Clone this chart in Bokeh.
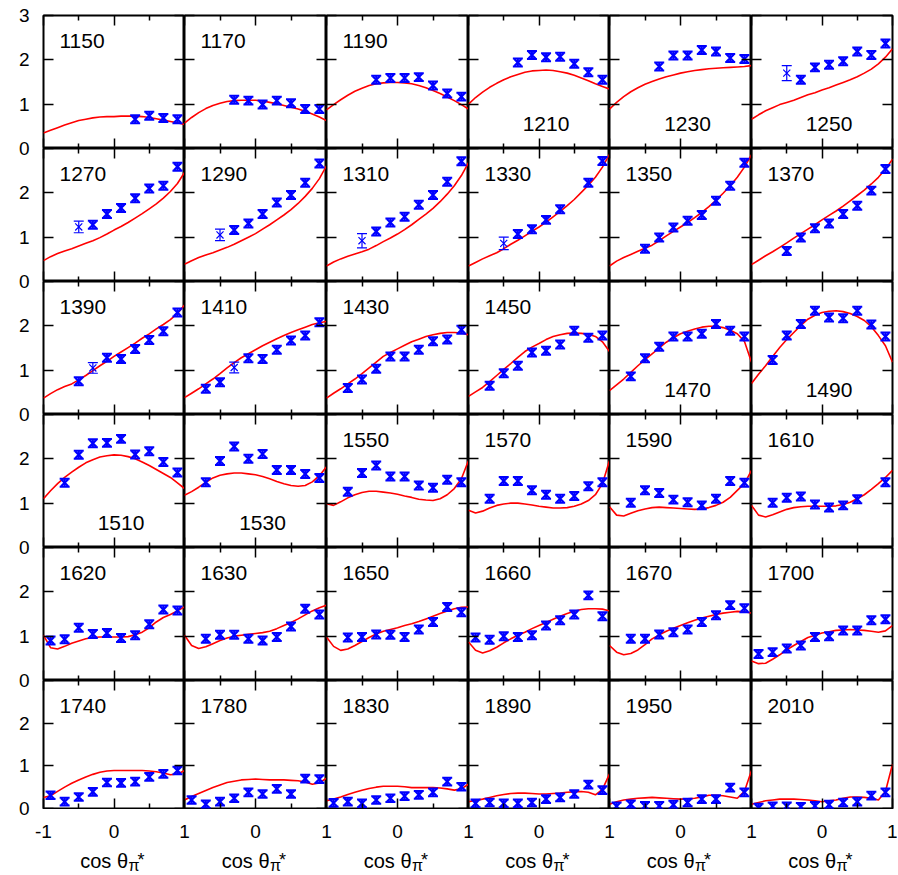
from bokeh.plotting import figure
from bokeh.layouts import gridplot, row, column
from bokeh.models import Range1d, FixedTicker, LinearAxis, Label
from bokeh.embed import file_html
from bokeh.resources import INLINE

# ---------------- data ----------------
energies = [1150, 1170, 1190, 1210, 1230, 1250,
            1270, 1290, 1310, 1330, 1350, 1370,
            1390, 1410, 1430, 1450, 1470, 1490,
            1510, 1530, 1550, 1570, 1590, 1610,
            1620, 1630, 1650, 1660, 1670, 1700,
            1740, 1780, 1830, 1890, 1950, 2010]
labels_at_bottom = [1210, 1230, 1250, 1470, 1490, 1510, 1530]

cos_fit = [-1.0, -0.9, -0.8, -0.7, -0.6, -0.5, -0.4, -0.3, -0.2, -0.1, 0.0,
           0.1, 0.2, 0.3, 0.4, 0.5, 0.6, 0.7, 0.8, 0.9, 1.0]

fit_1150 = [0.35, 0.41, 0.47, 0.53, 0.58, 0.63, 0.66, 0.69, 0.71, 0.72, 0.72, 0.73, 0.73, 0.73, 0.72, 0.70, 0.67, 0.64, 0.61, 0.58, 0.54]
fit_1170 = [0.57, 0.70, 0.81, 0.90, 0.97, 1.02, 1.06, 1.08, 1.09, 1.09, 1.09, 1.07, 1.04, 1.01, 0.97, 0.93, 0.89, 0.84, 0.78, 0.71, 0.63]
fit_1190 = [0.87, 0.99, 1.10, 1.20, 1.29, 1.36, 1.42, 1.46, 1.48, 1.49, 1.49, 1.48, 1.46, 1.42, 1.37, 1.31, 1.24, 1.16, 1.08, 0.99, 0.89]
fit_1210 = [1.00, 1.15, 1.27, 1.38, 1.47, 1.55, 1.62, 1.67, 1.72, 1.75, 1.76, 1.77, 1.76, 1.73, 1.70, 1.65, 1.59, 1.53, 1.46, 1.40, 1.34]
fit_1230 = [0.89, 1.04, 1.17, 1.28, 1.37, 1.45, 1.51, 1.57, 1.62, 1.66, 1.70, 1.73, 1.76, 1.78, 1.80, 1.81, 1.82, 1.83, 1.84, 1.85, 1.87]
fit_1250 = [0.66, 0.76, 0.85, 0.92, 0.99, 1.04, 1.09, 1.15, 1.21, 1.26, 1.32, 1.37, 1.43, 1.49, 1.55, 1.62, 1.70, 1.79, 1.91, 2.06, 2.25]
fit_1270 = [0.47, 0.56, 0.63, 0.69, 0.74, 0.80, 0.86, 0.92, 0.99, 1.07, 1.16, 1.24, 1.33, 1.43, 1.53, 1.64, 1.75, 1.88, 2.03, 2.21, 2.46]
fit_1290 = [0.39, 0.47, 0.54, 0.60, 0.65, 0.71, 0.77, 0.84, 0.92, 1.00, 1.08, 1.18, 1.28, 1.39, 1.50, 1.62, 1.76, 1.92, 2.10, 2.32, 2.61]
fit_1310 = [0.35, 0.44, 0.51, 0.57, 0.62, 0.67, 0.73, 0.81, 0.90, 0.98, 1.07, 1.17, 1.28, 1.40, 1.52, 1.65, 1.80, 1.97, 2.16, 2.39, 2.68]
fit_1330 = [0.35, 0.43, 0.51, 0.58, 0.65, 0.74, 0.84, 0.93, 1.03, 1.13, 1.23, 1.34, 1.46, 1.58, 1.71, 1.85, 2.01, 2.17, 2.35, 2.58, 2.87]
fit_1350 = [0.35, 0.46, 0.54, 0.61, 0.68, 0.75, 0.82, 0.92, 1.03, 1.13, 1.23, 1.33, 1.44, 1.56, 1.69, 1.83, 1.99, 2.16, 2.35, 2.58, 2.86]
fit_1370 = [0.38, 0.48, 0.58, 0.67, 0.77, 0.87, 0.98, 1.08, 1.18, 1.28, 1.39, 1.49, 1.59, 1.70, 1.82, 1.94, 2.06, 2.20, 2.35, 2.53, 2.76]
fit_1390 = [0.37, 0.47, 0.56, 0.63, 0.69, 0.78, 0.88, 0.99, 1.10, 1.20, 1.31, 1.41, 1.51, 1.61, 1.72, 1.82, 1.93, 2.03, 2.14, 2.28, 2.47]
fit_1410 = [0.38, 0.48, 0.58, 0.69, 0.80, 0.92, 1.05, 1.17, 1.28, 1.37, 1.46, 1.55, 1.63, 1.71, 1.78, 1.85, 1.91, 1.97, 2.03, 2.07, 2.10]
fit_1430 = [0.37, 0.48, 0.58, 0.69, 0.80, 0.92, 1.05, 1.18, 1.31, 1.40, 1.48, 1.56, 1.64, 1.70, 1.76, 1.80, 1.83, 1.85, 1.85, 1.84, 1.80]
fit_1450 = [0.41, 0.51, 0.61, 0.74, 0.88, 1.02, 1.15, 1.29, 1.42, 1.52, 1.60, 1.69, 1.76, 1.80, 1.83, 1.84, 1.83, 1.81, 1.76, 1.64, 1.42]
fit_1470 = [0.54, 0.67, 0.80, 0.95, 1.10, 1.24, 1.37, 1.50, 1.63, 1.73, 1.82, 1.88, 1.93, 1.97, 1.99, 1.99, 1.96, 1.90, 1.82, 1.65, 1.18]
fit_1490 = [0.70, 0.91, 1.10, 1.31, 1.51, 1.69, 1.85, 2.01, 2.15, 2.24, 2.30, 2.33, 2.34, 2.32, 2.28, 2.21, 2.12, 1.98, 1.78, 1.55, 1.18]
fit_1510 = [1.10, 1.28, 1.44, 1.58, 1.70, 1.81, 1.91, 1.98, 2.04, 2.07, 2.09, 2.08, 2.05, 2.00, 1.93, 1.85, 1.76, 1.67, 1.58, 1.46, 1.33]
fit_1530 = [1.18, 1.26, 1.36, 1.47, 1.57, 1.63, 1.66, 1.68, 1.68, 1.66, 1.64, 1.60, 1.55, 1.49, 1.44, 1.40, 1.38, 1.40, 1.48, 1.62, 1.82]
fit_1550 = [0.99, 0.95, 1.03, 1.12, 1.19, 1.24, 1.27, 1.27, 1.25, 1.23, 1.20, 1.16, 1.13, 1.09, 1.07, 1.06, 1.10, 1.19, 1.33, 1.55, 1.96]
fit_1570 = [0.84, 0.78, 0.82, 0.89, 0.95, 0.98, 1.00, 1.00, 0.98, 0.96, 0.93, 0.91, 0.89, 0.89, 0.90, 0.93, 0.98, 1.06, 1.19, 1.44, 1.96]
fit_1590 = [0.92, 0.73, 0.71, 0.77, 0.83, 0.87, 0.90, 0.91, 0.90, 0.89, 0.88, 0.87, 0.86, 0.87, 0.90, 0.95, 1.02, 1.13, 1.29, 1.44, 1.74]
fit_1610 = [0.95, 0.73, 0.69, 0.74, 0.80, 0.86, 0.90, 0.92, 0.93, 0.93, 0.93, 0.93, 0.94, 0.97, 1.02, 1.10, 1.19, 1.31, 1.44, 1.58, 1.74]
fit_1620 = [1.02, 0.74, 0.71, 0.77, 0.84, 0.89, 0.94, 0.97, 0.98, 0.98, 0.98, 0.98, 0.99, 1.03, 1.09, 1.19, 1.32, 1.42, 1.49, 1.57, 1.66]
fit_1630 = [1.02, 0.79, 0.72, 0.76, 0.83, 0.90, 0.96, 1.00, 1.02, 1.04, 1.06, 1.08, 1.11, 1.17, 1.24, 1.31, 1.39, 1.48, 1.57, 1.64, 1.70]
fit_1650 = [0.98, 0.77, 0.68, 0.71, 0.79, 0.88, 0.97, 1.05, 1.11, 1.15, 1.19, 1.24, 1.28, 1.33, 1.39, 1.45, 1.51, 1.57, 1.62, 1.65, 1.66]
fit_1660 = [0.87, 0.68, 0.62, 0.67, 0.75, 0.85, 0.94, 1.02, 1.09, 1.17, 1.24, 1.31, 1.38, 1.45, 1.51, 1.56, 1.60, 1.62, 1.62, 1.61, 1.57]
fit_1670 = [0.79, 0.64, 0.58, 0.61, 0.69, 0.81, 0.94, 1.03, 1.11, 1.18, 1.24, 1.30, 1.36, 1.41, 1.45, 1.49, 1.52, 1.54, 1.56, 1.55, 1.52]
fit_1700 = [0.44, 0.38, 0.39, 0.48, 0.58, 0.69, 0.79, 0.88, 0.97, 1.02, 1.07, 1.10, 1.13, 1.14, 1.15, 1.14, 1.13, 1.11, 1.09, 1.12, 1.24]
fit_1740 = [0.26, 0.30, 0.40, 0.50, 0.59, 0.67, 0.74, 0.80, 0.85, 0.88, 0.89, 0.89, 0.89, 0.89, 0.89, 0.88, 0.86, 0.83, 0.79, 0.81, 0.89]
fit_1780 = [0.20, 0.28, 0.35, 0.42, 0.49, 0.55, 0.61, 0.64, 0.67, 0.68, 0.69, 0.68, 0.67, 0.67, 0.67, 0.66, 0.65, 0.62, 0.57, 0.60, 0.71]
fit_1830 = [0.18, 0.22, 0.27, 0.33, 0.38, 0.43, 0.47, 0.50, 0.52, 0.52, 0.52, 0.51, 0.49, 0.49, 0.49, 0.49, 0.48, 0.46, 0.43, 0.46, 0.57]
fit_1890 = [0.16, 0.19, 0.22, 0.26, 0.30, 0.33, 0.35, 0.36, 0.36, 0.35, 0.34, 0.34, 0.35, 0.36, 0.38, 0.39, 0.40, 0.38, 0.32, 0.45, 0.81]
fit_1950 = [0.10, 0.16, 0.20, 0.22, 0.24, 0.25, 0.26, 0.25, 0.24, 0.23, 0.22, 0.23, 0.24, 0.27, 0.31, 0.31, 0.30, 0.27, 0.24, 0.40, 0.89]
fit_2010 = [0.10, 0.14, 0.18, 0.20, 0.22, 0.22, 0.22, 0.21, 0.20, 0.18, 0.16, 0.18, 0.20, 0.24, 0.27, 0.27, 0.26, 0.24, 0.20, 0.40, 1.04]

# measured points (cos theta, dsigma/dOmega)
cos_1150 = [0.3, 0.5, 0.7, 0.9]
dsig_1150 = [0.66, 0.74, 0.69, 0.66]
cos_1170 = [-0.3, -0.1, 0.1, 0.3, 0.5, 0.7, 0.9]
dsig_1170 = [1.10, 1.08, 0.99, 1.08, 1.02, 0.89, 0.89]
cos_1190 = [-0.3, -0.1, 0.1, 0.3, 0.5, 0.7, 0.9]
dsig_1190 = [1.55, 1.59, 1.59, 1.61, 1.42, 1.24, 1.17]
cos_1210 = [-0.3, -0.1, 0.1, 0.3, 0.5, 0.7, 0.9]
dsig_1210 = [1.94, 2.11, 2.06, 2.07, 1.91, 1.72, 1.55]
cos_1230 = [-0.3, -0.1, 0.1, 0.3, 0.5, 0.7, 0.9]
dsig_1230 = [1.85, 2.10, 2.10, 2.22, 2.19, 2.04, 2.02]
cos_1250 = [-0.3, -0.1, 0.1, 0.3, 0.5, 0.7, 0.9]
dsig_1250 = [1.55, 1.83, 1.89, 1.97, 2.19, 2.11, 2.37]
cos_1270 = [-0.3, -0.1, 0.1, 0.3, 0.5, 0.7, 0.9]
dsig_1270 = [1.28, 1.52, 1.66, 1.88, 2.10, 2.16, 2.59]
cos_1290 = [-0.3, -0.1, 0.1, 0.3, 0.5, 0.7, 0.9]
dsig_1290 = [1.16, 1.31, 1.52, 1.78, 1.95, 2.23, 2.66]
cos_1310 = [-0.3, -0.1, 0.1, 0.3, 0.5, 0.7, 0.9]
dsig_1310 = [1.13, 1.33, 1.46, 1.73, 1.95, 2.25, 2.71]
cos_1330 = [-0.3, -0.1, 0.1, 0.3, 0.7, 0.9]
dsig_1330 = [1.07, 1.18, 1.39, 1.63, 2.23, 2.72]
cos_1350 = [-0.5, -0.3, -0.1, 0.1, 0.3, 0.5, 0.7, 0.9]
dsig_1350 = [0.74, 0.99, 1.22, 1.37, 1.50, 1.82, 2.16, 2.68]
cos_1370 = [-0.5, -0.3, -0.1, 0.1, 0.3, 0.5, 0.7, 0.9]
dsig_1370 = [0.69, 0.99, 1.20, 1.31, 1.52, 1.71, 2.05, 2.54]
cos_1390 = [-0.5, -0.1, 0.1, 0.3, 0.5, 0.7, 0.9]
dsig_1390 = [0.75, 1.28, 1.25, 1.48, 1.68, 1.88, 2.30]
cos_1410 = [-0.7, -0.5, -0.1, 0.1, 0.3, 0.5, 0.7, 0.9]
dsig_1410 = [0.58, 0.73, 1.27, 1.25, 1.46, 1.67, 1.78, 2.08]
cos_1430 = [-0.7, -0.5, -0.3, -0.1, 0.1, 0.3, 0.5, 0.7, 0.9]
dsig_1430 = [0.60, 0.79, 1.03, 1.31, 1.31, 1.46, 1.65, 1.69, 1.91]
cos_1450 = [-0.7, -0.5, -0.3, -0.1, 0.1, 0.3, 0.5, 0.7, 0.9]
dsig_1450 = [0.65, 0.93, 1.10, 1.40, 1.44, 1.58, 1.89, 1.73, 1.78]
cos_1470 = [-0.7, -0.5, -0.3, -0.1, 0.1, 0.3, 0.5, 0.7, 0.9]
dsig_1470 = [0.86, 1.27, 1.53, 1.76, 1.76, 1.82, 2.04, 1.89, 1.76]
cos_1490 = [-0.7, -0.5, -0.3, -0.1, 0.1, 0.3, 0.5, 0.7, 0.9]
dsig_1490 = [1.23, 1.78, 2.04, 2.34, 2.19, 2.17, 2.34, 2.03, 1.76]
cos_1510 = [-0.7, -0.5, -0.3, -0.1, 0.1, 0.3, 0.5, 0.7, 0.9]
dsig_1510 = [1.46, 2.09, 2.35, 2.36, 2.45, 2.10, 2.17, 1.93, 1.69]
cos_1530 = [-0.7, -0.5, -0.3, -0.1, 0.1, 0.3, 0.5, 0.7, 0.9]
dsig_1530 = [1.47, 1.95, 2.28, 2.00, 2.11, 1.75, 1.75, 1.66, 1.57]
cos_1550 = [-0.7, -0.5, -0.3, -0.1, 0.1, 0.3, 0.5, 0.7, 0.9]
dsig_1550 = [1.26, 1.68, 1.85, 1.60, 1.60, 1.40, 1.35, 1.53, 1.47]
cos_1570 = [-0.7, -0.5, -0.3, -0.1, 0.1, 0.3, 0.5, 0.7, 0.9]
dsig_1570 = [1.10, 1.50, 1.50, 1.29, 1.19, 1.10, 1.16, 1.38, 1.47]
cos_1590 = [-0.7, -0.5, -0.3, -0.1, 0.1, 0.3, 0.5, 0.7, 0.9]
dsig_1590 = [1.01, 1.29, 1.23, 1.08, 1.02, 0.95, 1.10, 1.50, 1.46]
cos_1610 = [-0.7, -0.5, -0.3, -0.1, 0.1, 0.3, 0.5, 0.9]
dsig_1610 = [1.01, 1.12, 1.15, 0.97, 0.90, 0.95, 1.09, 1.47]
cos_1620 = [-0.9, -0.7, -0.5, -0.3, -0.1, 0.1, 0.3, 0.5, 0.7, 0.9]
dsig_1620 = [0.90, 0.93, 1.19, 1.05, 1.07, 0.96, 1.02, 1.27, 1.60, 1.58]
cos_1630 = [-0.7, -0.5, -0.3, -0.1, 0.1, 0.3, 0.5, 0.7, 0.9]
dsig_1630 = [0.94, 1.03, 1.03, 0.94, 0.90, 0.98, 1.22, 1.62, 1.49]
cos_1650 = [-0.7, -0.5, -0.3, -0.1, 0.1, 0.3, 0.5, 0.7, 0.9]
dsig_1650 = [0.97, 0.98, 1.04, 1.03, 0.98, 1.15, 1.32, 1.66, 1.54]
cos_1660 = [-0.9, -0.7, -0.5, -0.3, -0.1, 0.1, 0.3, 0.5, 0.7, 0.9]
dsig_1660 = [0.97, 0.92, 1.00, 0.98, 1.02, 1.24, 1.36, 1.49, 1.92, 1.45]
cos_1670 = [-0.7, -0.5, -0.3, -0.1, 0.1, 0.3, 0.5, 0.7, 0.9]
dsig_1670 = [0.94, 0.94, 1.04, 1.09, 1.15, 1.32, 1.47, 1.70, 1.63]
cos_1700 = [-0.9, -0.7, -0.5, -0.3, -0.1, 0.1, 0.3, 0.5, 0.7, 0.9]
dsig_1700 = [0.60, 0.64, 0.72, 0.79, 0.98, 1.00, 1.13, 1.13, 1.36, 1.38]
cos_1740 = [-0.9, -0.7, -0.5, -0.3, -0.1, 0.1, 0.3, 0.5, 0.7, 0.9]
dsig_1740 = [0.31, 0.16, 0.27, 0.39, 0.61, 0.60, 0.63, 0.74, 0.81, 0.89]
cos_1780 = [-0.9, -0.7, -0.5, -0.3, -0.1, 0.1, 0.3, 0.5, 0.7, 0.9]
dsig_1780 = [0.20, 0.10, 0.16, 0.24, 0.38, 0.34, 0.46, 0.34, 0.70, 0.69]
cos_1830 = [-0.9, -0.7, -0.5, -0.3, -0.1, 0.1, 0.3, 0.5, 0.7, 0.9]
dsig_1830 = [0.13, 0.16, 0.12, 0.20, 0.24, 0.29, 0.32, 0.38, 0.63, 0.51]
cos_1890 = [-0.9, -0.7, -0.5, -0.3, -0.1, 0.1, 0.3, 0.5, 0.7, 0.9]
dsig_1890 = [0.12, 0.14, 0.12, 0.12, 0.14, 0.22, 0.26, 0.34, 0.56, 0.43]
cos_1950 = [-0.9, -0.7, -0.5, -0.3, -0.1, 0.1, 0.3, 0.5, 0.7, 0.9]
dsig_1950 = [0.05, 0.10, 0.06, 0.06, 0.09, 0.14, 0.22, 0.22, 0.49, 0.38]
cos_2010 = [-0.9, -0.7, -0.5, -0.3, -0.1, 0.1, 0.3, 0.5, 0.7, 0.9]
dsig_2010 = [0.02, 0.05, 0.05, 0.04, 0.06, 0.09, 0.14, 0.16, 0.30, 0.38]
err_typical = 0.09

# points with larger error bars (drawn thin)
wide_energy = [1250, 1270, 1290, 1310, 1330, 1390, 1410]
wide_cos = [-0.5, -0.5, -0.5, -0.5, -0.5, -0.3, -0.3]
wide_dsig = [1.70, 1.23, 1.05, 0.92, 0.86, 1.05, 1.06]
wide_err = [0.17, 0.13, 0.13, 0.16, 0.14, 0.12, 0.12]

y_ticks = [0, 1, 2, 3]
x_ticks = [-1, 0, 1]
x_minor = [-0.5, 0.5]

# ---------------- layout / style ----------------
col_w = [141, 142, 142, 141, 142, 141]
row_h = [133, 133, 133, 133, 133, 128]
FONT = "Liberation Sans"
BLUE = "#0000ff"
RED = "#ff0000"


def tick_axis(ax, ticks, minor):
    ax.ticker = FixedTicker(ticks=ticks, minor_ticks=minor)
    ax.axis_line_color = None
    ax.major_tick_in = 10
    ax.major_tick_out = 0
    ax.minor_tick_in = 5
    ax.minor_tick_out = 0
    ax.major_tick_line_width = 1.5
    ax.minor_tick_line_width = 1.5
    ax.major_tick_line_color = "black"
    ax.minor_tick_line_color = "black"
    ax.major_label_text_color = None


rows = []
for r in range(6):
    prow = []
    for c in range(6):
        e = energies[r * 6 + c]
        p = figure(frame_width=col_w[c], frame_height=row_h[r],
                   x_range=Range1d(-1, 1), y_range=Range1d(0, 3),
                   output_backend="svg", toolbar_location=None,
                   min_border_left=10 if c == 0 else 0,
                   min_border_right=2 if c == 5 else 0,
                   min_border_top=15 if r == 0 else 0,
                   min_border_bottom=1 if r == 5 else 0,
                   background_fill_color="white", border_fill_color="white")
        p.grid.visible = False
        p.outline_line_color = "black"
        p.outline_line_width = 2

        tick_axis(p.xaxis[0], x_ticks, x_minor)
        tick_axis(p.yaxis[0], y_ticks, [])
        xt = LinearAxis()
        tick_axis(xt, x_ticks, x_minor)
        p.add_layout(xt, "above")
        yr = LinearAxis()
        tick_axis(yr, y_ticks, [])
        p.add_layout(yr, "right")

        # model curve
        p.line(cos_fit, globals()[f"fit_{e}"], line_color=RED, line_width=1.6)

        # data with error bars
        xs = globals()[f"cos_{e}"]
        ys = globals()[f"dsig_{e}"]
        lo = [y - err_typical for y in ys]
        hi = [y + err_typical for y in ys]
        p.segment(x0=xs, y0=lo, x1=xs, y1=hi, line_color=BLUE, line_width=2)
        p.scatter(xs, lo, marker="dash", size=10, line_color=BLUE, line_width=2)
        p.scatter(xs, hi, marker="dash", size=10, line_color=BLUE, line_width=2)
        p.scatter(xs, ys, marker="x", size=10, line_color=BLUE, line_width=2.2)

        sel = [i for i in range(len(wide_energy)) if wide_energy[i] == e]
        if sel:
            wx = [wide_cos[i] for i in sel]
            wlo = [wide_dsig[i] - wide_err[i] for i in sel]
            whi = [wide_dsig[i] + wide_err[i] for i in sel]
            wy = [wide_dsig[i] for i in sel]
            p.segment(x0=wx, y0=wlo, x1=wx, y1=whi, line_color=BLUE, line_width=1.2)
            p.scatter(wx, wlo, marker="dash", size=10, line_color=BLUE, line_width=1.2)
            p.scatter(wx, whi, marker="dash", size=10, line_color=BLUE, line_width=1.2)
            p.scatter(wx, wy, marker="x", size=10, line_color=BLUE, line_width=1.2)

        # energy label
        if e in labels_at_bottom:
            lab = Label(x=0, y=0, x_offset=7, y_offset=24.5, text=str(e),
                        text_align="center", text_baseline="middle")
        else:
            lab = Label(x=-1, y=3, x_offset=16, y_offset=-25, text=str(e),
                        text_align="left", text_baseline="middle")
        lab.text_font = FONT
        lab.text_font_size = "21px"
        lab.text_color = "black"
        p.add_layout(lab)
        prow.append(p)
    rows.append(prow)

grid = gridplot(rows, toolbar_location=None)

# ---- shared y tick labels (left strip, pixel units along the stacked rows) ----
total_h = sum(row_h)
y_pos, y_lab = [], {}
for r in range(6):
    base = sum(row_h[r + 1:])
    ks = [0, 1, 2, 3] if r == 0 else [0, 1, 2]
    for k in ks:
        v = round(base + k * row_h[r] / 3.0, 3)
        y_pos.append(v)
        y_lab[v] = str(k)

left = figure(frame_width=1, frame_height=total_h, x_range=Range1d(0, 1),
              y_range=Range1d(0, total_h), output_backend="svg", toolbar_location=None,
              x_axis_location=None, min_border_left=32, min_border_right=0,
              min_border_top=15, min_border_bottom=67,
              background_fill_color="white", border_fill_color="white")
left.grid.visible = False
left.outline_line_color = None
ly = left.yaxis[0]
ly.ticker = FixedTicker(ticks=y_pos, minor_ticks=[])
ly.major_label_overrides = y_lab
ly.axis_line_color = None
ly.major_tick_in = 0
ly.major_tick_out = 0
ly.minor_tick_in = 0
ly.minor_tick_out = 0
ly.major_label_standoff = 3
ly.major_label_text_font = FONT
ly.major_label_text_font_size = "19px"
ly.major_label_text_color = "black"

# ---- shared x tick labels and axis titles (bottom strip, pixel units) ----
total_w = sum(col_w)
x_pos, x_lab, centers = [], {}, []
for c in range(6):
    l = sum(col_w[:c])
    cen = l + col_w[c] / 2.0
    centers.append(cen)
    x_pos += [l, cen]
    x_lab[l] = "-1" if c == 0 else "1"
    x_lab[cen] = "0"
x_pos.append(total_w)
x_lab[total_w] = "1"

bottom = figure(frame_width=total_w, frame_height=35, x_range=Range1d(0, total_w),
                y_range=Range1d(0, 35), output_backend="svg", toolbar_location=None,
                x_axis_location="above", y_axis_location=None,
                min_border_left=10, min_border_right=5, min_border_top=31,
                min_border_bottom=0,
                background_fill_color="white", border_fill_color="white")
bottom.grid.visible = False
bottom.outline_line_color = None
bx = bottom.xaxis[0]
bx.ticker = FixedTicker(ticks=x_pos, minor_ticks=[])
bx.major_label_overrides = x_lab
bx.axis_line_color = None
bx.major_tick_in = 0
bx.major_tick_out = 0
bx.minor_tick_in = 0
bx.minor_tick_out = 0
bx.major_label_standoff = 3
bx.major_label_text_font = FONT
bx.major_label_text_font_size = "19px"
bx.major_label_text_color = "black"

for cen in centers:
    bottom.add_layout(Label(x=cen, y=15, x_offset=14, text="cos θ",
                            text_align="right", text_baseline="middle",
                            text_font=FONT, text_font_size="20px", text_color="black"))
    bottom.add_layout(Label(x=cen, y=10, x_offset=14.5, text="π",
                            text_align="left", text_baseline="middle",
                            text_font=FONT, text_font_size="16px", text_color="black"))
    bottom.add_layout(Label(x=cen, y=16, x_offset=23.5, text="*",
                            text_align="left", text_baseline="middle",
                            text_font=FONT, text_font_size="18px", text_color="black"))

page = row(left, column(grid, bottom))

open("out.html", "w").write(file_html(page, INLINE, title="dsigma"))
